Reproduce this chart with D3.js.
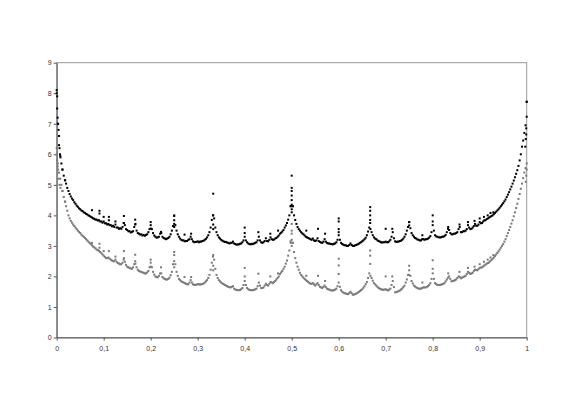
<!DOCTYPE html>
<html>
<head>
<meta charset="utf-8">
<script src="https://cdn.jsdelivr.net/npm/d3@7"></script>
<style>
  body { margin: 0; background: #fff; }
  .axis { opacity: 0.99; }
  .axis text { font-family: "Liberation Sans", Arial, sans-serif; font-size: 7px; fill: #333; }
  .axis path, .axis line { stroke: #555; }
</style>
</head>
<body>
<div id="chart"></div>
<script>
var width = 581, height = 411;

// sample step along x for the two main series
var step = 0.005;

// upper (black) series, one value every 0.005 from 0 to 1
var blackVals = [
  8.1, 6.3, 5.7, 5.3, 5.04, 4.8, 4.62, 4.5, 4.38, 4.28,
  4.2, 4.14, 4.08, 4.03, 3.98, 3.93, 3.89, 3.86, 3.84, 3.8,
  3.8, 3.74, 3.72, 3.68, 3.66, 3.7, 3.6, 3.58, 3.62, 3.68,
  3.52, 3.48, 3.46, 3.62, 3.5, 3.4, 3.38, 3.36, 3.36, 3.45,
  3.78, 3.42, 3.3, 3.28, 3.4, 3.3, 3.24, 3.24, 3.3, 3.5,
  3.98, 3.5, 3.3, 3.2, 3.18, 3.16, 3.2, 3.3, 3.15, 3.13,
  3.15, 3.14, 3.16, 3.2, 3.28, 3.45, 3.85, 3.9, 3.45, 3.28,
  3.2, 3.15, 3.13, 3.1, 3.1, 3.14, 3.06, 3.05, 3.07, 3.12,
  3.3, 3.12, 3.06, 3.07, 3.08, 3.12, 3.3, 3.12, 3.12, 3.25,
  3.15, 3.28, 3.2, 3.24, 3.3, 3.4, 3.47, 3.6, 3.75, 4.0,
  4.9, 4.0, 3.72, 3.55, 3.45, 3.38, 3.3, 3.26, 3.22, 3.24,
  3.16, 3.25, 3.13, 3.1, 3.22, 3.1, 3.08, 3.06, 3.07, 3.12,
  3.35, 3.1, 3.04, 3.02, 3.0, 3.08, 3.0, 3.02, 3.05, 3.1,
  3.15, 3.22, 3.35, 3.6, 3.45, 3.28, 3.22, 3.16, 3.12, 3.12,
  3.14, 3.12, 3.2, 3.45, 3.15, 3.14, 3.16, 3.2, 3.3, 3.5,
  3.78, 3.42, 3.3, 3.24, 3.2, 3.18, 3.22, 3.22, 3.24, 3.32,
  3.68, 3.35, 3.3, 3.28, 3.3, 3.32, 3.45, 3.52, 3.38, 3.4,
  3.42, 3.55, 3.45, 3.48, 3.5, 3.68, 3.55, 3.6, 3.72, 3.66,
  3.78, 3.75, 3.84, 3.88, 3.93, 3.98, 4.04, 4.12, 4.2, 4.3,
  4.4, 4.52, 4.68, 4.85, 5.04, 5.25, 5.48, 5.8, 6.25, 6.7,
  7.72
];

// black series read between those steps (x = 0.0025, 0.0075, ...)
var blackMid = [
  7.0, 5.95, 5.5, 5.15, 4.9, 4.7, 4.55, 4.43, 4.32, 4.23,
  4.16, 4.1, 4.05, 4.0, 3.95, 3.9, 3.86, 3.83, 3.8, 3.76,
  3.74, 3.7, 3.68, 3.64, 3.62, 3.6, 3.56, 3.56, 3.75, 3.55,
  3.48, 3.44, 3.48, 3.72, 3.42, 3.37, 3.34, 3.33, 3.38, 3.55,
  3.55, 3.34, 3.27, 3.3, 3.42, 3.26, 3.22, 3.26, 3.38, 3.65,
  3.68, 3.38, 3.24, 3.18, 3.15, 3.16, 3.22, 3.22, 3.12, 3.13,
  3.12, 3.14, 3.17, 3.23, 3.35, 3.6, 4.0, 3.6, 3.35, 3.24,
  3.17, 3.13, 3.11, 3.08, 3.1, 3.08, 3.04, 3.05, 3.08, 3.18,
  3.18, 3.08, 3.05, 3.06, 3.1, 3.18, 3.18, 3.1, 3.16, 3.16,
  3.2, 3.22, 3.21, 3.26, 3.34, 3.43, 3.52, 3.67, 3.86, 4.3,
  4.3, 3.85, 3.62, 3.5, 3.41, 3.34, 3.28, 3.24, 3.2, 3.18,
  3.18, 3.16, 3.11, 3.14, 3.14, 3.08, 3.06, 3.05, 3.08, 3.2,
  3.2, 3.06, 3.02, 3.0, 3.03, 3.03, 3.0, 3.03, 3.07, 3.12,
  3.18, 3.27, 3.47, 3.55, 3.35, 3.24, 3.18, 3.14, 3.11, 3.12,
  3.12, 3.15, 3.3, 3.25, 3.13, 3.14, 3.17, 3.24, 3.38, 3.62,
  3.58, 3.35, 3.26, 3.21, 3.18, 3.22, 3.2, 3.22, 3.27, 3.45,
  3.5, 3.31, 3.28, 3.28, 3.3, 3.36, 3.56, 3.42, 3.38, 3.4,
  3.45, 3.62, 3.45, 3.48, 3.55, 3.6, 3.56, 3.65, 3.66, 3.7,
  3.74, 3.8, 3.84, 3.9, 3.95, 4.0, 4.08, 4.16, 4.25, 4.35,
  4.46, 4.6, 4.76, 4.94, 5.14, 5.36, 5.62, 6.0, 6.45, 6.95
];

// lower (gray) series, same x steps
var grayVals = [
  6.2, 5.4, 5.0, 4.6, 4.3, 4.0, 3.82, 3.7, 3.6, 3.5,
  3.42, 3.33, 3.26, 3.18, 3.1, 3.02, 2.95, 2.88, 2.84, 2.76,
  2.68, 2.6, 2.62, 2.55, 2.5, 2.55, 2.44, 2.4, 2.45, 2.48,
  2.32, 2.28, 2.25, 2.4, 2.3, 2.18, 2.15, 2.12, 2.1, 2.18,
  2.55, 2.15, 2.0, 1.97, 2.1, 1.98, 1.92, 1.9, 1.96, 2.15,
  2.7, 2.15, 1.92, 1.84, 1.8, 1.76, 1.74, 1.88, 1.74, 1.72,
  1.75, 1.74, 1.75, 1.8, 1.88, 2.05, 2.45, 2.55, 2.05, 1.88,
  1.8, 1.75, 1.7, 1.66, 1.64, 1.68, 1.57, 1.55, 1.56, 1.62,
  1.85, 1.62, 1.56, 1.55, 1.56, 1.6, 1.8, 1.62, 1.64, 1.76,
  1.7, 1.82, 1.78, 1.85, 1.95, 2.08, 2.18, 2.32, 2.52, 2.85,
  3.5, 2.8, 2.45, 2.22, 2.05, 1.96, 1.88, 1.82, 1.76, 1.78,
  1.7, 1.78, 1.66, 1.62, 1.7, 1.6, 1.57, 1.54, 1.55, 1.6,
  1.8, 1.55, 1.47, 1.44, 1.42, 1.5, 1.4, 1.42, 1.46, 1.52,
  1.58, 1.68, 1.82, 2.1, 1.95, 1.78, 1.7, 1.62, 1.58, 1.56,
  1.58, 1.54, 1.6, 1.85, 1.48, 1.5, 1.54, 1.6, 1.7, 1.9,
  2.2, 1.85, 1.7, 1.64, 1.6, 1.6, 1.64, 1.64, 1.68, 1.78,
  2.1, 1.78, 1.72, 1.72, 1.74, 1.78, 1.9, 2.0, 1.84, 1.86,
  1.9, 2.0, 1.94, 1.98, 2.02, 2.15, 2.08, 2.12, 2.22, 2.2,
  2.28, 2.3, 2.36, 2.42, 2.46, 2.54, 2.62, 2.72, 2.82, 2.94,
  3.06, 3.22, 3.42, 3.62, 3.84, 4.1, 4.38, 4.7, 5.04, 5.4,
  5.7
];

// gray series read between those steps
var grayMid = [
  5.7, 5.2, 4.8, 4.45, 4.15, 3.9, 3.76, 3.65, 3.55, 3.46,
  3.37, 3.3, 3.22, 3.14, 3.06, 2.98, 2.92, 2.86, 2.8, 2.72,
  2.64, 2.6, 2.58, 2.52, 2.5, 2.48, 2.42, 2.4, 2.55, 2.38,
  2.3, 2.26, 2.3, 2.42, 2.22, 2.16, 2.13, 2.1, 2.13, 2.3,
  2.3, 2.06, 1.98, 2.02, 2.1, 1.94, 1.9, 1.92, 2.04, 2.4,
  2.4, 2.02, 1.88, 1.82, 1.78, 1.75, 1.8, 1.8, 1.73, 1.73,
  1.74, 1.74, 1.77, 1.84, 1.95, 2.22, 2.65, 2.25, 1.95, 1.84,
  1.77, 1.72, 1.68, 1.65, 1.66, 1.6, 1.56, 1.55, 1.58, 1.72,
  1.72, 1.58, 1.55, 1.55, 1.58, 1.68, 1.7, 1.62, 1.7, 1.72,
  1.76, 1.8, 1.82, 1.9, 2.0, 2.13, 2.25, 2.42, 2.68, 3.15,
  3.1, 2.6, 2.32, 2.12, 2.0, 1.92, 1.85, 1.79, 1.76, 1.74,
  1.74, 1.72, 1.64, 1.66, 1.65, 1.58, 1.55, 1.54, 1.57, 1.68,
  1.66, 1.5, 1.45, 1.43, 1.46, 1.45, 1.41, 1.44, 1.49, 1.55,
  1.63, 1.75, 1.95, 2.02, 1.86, 1.74, 1.66, 1.6, 1.57, 1.57,
  1.56, 1.57, 1.72, 1.65, 1.49, 1.52, 1.57, 1.65, 1.8, 2.05,
  2.02, 1.77, 1.67, 1.62, 1.6, 1.62, 1.64, 1.66, 1.72, 1.92,
  1.92, 1.75, 1.72, 1.73, 1.76, 1.84, 1.96, 1.92, 1.85, 1.88,
  1.95, 1.98, 1.96, 2.0, 2.08, 2.12, 2.1, 2.18, 2.21, 2.24,
  2.29, 2.33, 2.39, 2.44, 2.5, 2.58, 2.67, 2.77, 2.88, 3.0,
  3.14, 3.32, 3.52, 3.73, 3.97, 4.24, 4.54, 4.87, 5.22, 5.55
];

// extra points: spikes at the rationals and the scatter at both ends
var blackExtra = [
  [0, 8.0], [0.001, 7.9], [0.001, 7.5], [0.002, 7.2], [0.003, 7.0], [0.004, 6.8],
  [0.005, 6.6], [0.006, 6.2], [0.007, 6.0], [0.008, 5.9], [0.012, 5.5], [0.018, 5.15],
  [0.075, 4.17], [0.091, 4.15], [0.091, 4.06], [0.1, 3.95], [0.111, 3.95], [0.111, 3.84],
  [0.125, 3.8], [0.143, 3.98], [0.143, 3.75], [0.167, 3.86], [0.167, 3.7],
  [0.2, 3.68], [0.2, 3.57], [0.222, 3.46], [0.25, 4.0], [0.25, 3.84], [0.25, 3.72], [0.25, 3.62],
  [0.272, 3.37], [0.286, 3.4], [0.333, 4.71], [0.333, 4.0], [0.333, 3.7], [0.333, 3.55],
  [0.4, 3.6], [0.4, 3.42], [0.429, 3.45], [0.4545, 3.4], [0.471, 3.5],
  [0.5, 5.3], [0.5, 4.8], [0.5, 4.65], [0.5, 4.5], [0.5, 4.35], [0.5, 4.2], [0.5, 4.1],
  [0.498, 4.3], [0.502, 4.3], [0.531, 3.5], [0.556, 3.56], [0.571, 3.4],
  [0.6, 3.9], [0.6, 3.8], [0.6, 3.55], [0.6, 3.45],
  [0.667, 4.27], [0.667, 4.15], [0.667, 4.0], [0.667, 3.85], [0.667, 3.75],
  [0.7, 3.56], [0.714, 3.56], [0.75, 3.78], [0.75, 3.67], [0.778, 3.35],
  [0.8, 4.0], [0.8, 3.8], [0.833, 3.62], [0.857, 3.7], [0.875, 3.78],
  [0.889, 3.82], [0.9, 3.9], [0.909, 3.95], [0.917, 4.0], [0.923, 4.08], [0.929, 4.1],
  [1.0, 7.72], [1.0, 7.23], [0.999, 6.85], [0.999, 6.65], [0.998, 6.5], [0.997, 6.25]
];

var grayExtra = [
  [0, 6.0], [0.001, 5.8], [0.002, 5.6], [0.003, 5.5], [0.004, 5.2], [0.006, 5.0],
  [0.008, 4.9], [0.012, 4.8], [0.018, 4.45],
  [0.075, 3.1], [0.091, 3.07], [0.091, 2.94], [0.1, 2.83], [0.111, 2.83], [0.125, 2.65],
  [0.143, 2.83], [0.143, 2.6], [0.167, 2.71], [0.167, 2.5],
  [0.2, 2.45], [0.2, 2.32], [0.222, 2.3], [0.25, 2.8], [0.25, 2.5], [0.25, 2.3],
  [0.272, 1.98], [0.286, 1.98], [0.333, 2.7], [0.333, 2.35], [0.333, 2.2],
  [0.4, 2.28], [0.4, 2.0], [0.429, 2.09], [0.4545, 2.0], [0.471, 2.1],
  [0.5, 3.72], [0.5, 3.4], [0.5, 3.2], [0.5, 3.0], [0.498, 3.1], [0.502, 3.1],
  [0.531, 2.02], [0.556, 2.02], [0.571, 1.85],
  [0.6, 2.58], [0.6, 2.36], [0.6, 2.08], [0.667, 2.85], [0.667, 2.68], [0.667, 2.41],
  [0.7, 2.0], [0.714, 2.0], [0.75, 2.35], [0.75, 2.05], [0.778, 1.8],
  [0.8, 2.53], [0.8, 2.25], [0.833, 2.1], [0.857, 2.15], [0.875, 2.28],
  [0.889, 2.32], [0.9, 2.4], [0.909, 2.48], [0.917, 2.55], [0.923, 2.62], [0.929, 2.7],
  [1.0, 5.5], [0.999, 5.3], [0.998, 5.1]
];

var xTicks = [0, 0.1, 0.2, 0.3, 0.4, 0.5, 0.6, 0.7, 0.8, 0.9, 1];
var yTicks = [0, 1, 2, 3, 4, 5, 6, 7, 8, 9];

var svg = d3.select("#chart").append("svg")
    .attr("width", width)
    .attr("height", height);

var x = d3.scaleLinear().domain([0, 1]).range([56.7, 526.7]);
var y = d3.scaleLinear().domain([0, 9]).range([337.5, 62.7]);

// plot area frame (gray, Excel style)
svg.append("rect")
    .attr("x", x(0)).attr("y", y(9))
    .attr("width", x(1) - x(0)).attr("height", y(0) - y(9))
    .attr("fill", "none")
    .attr("stroke", "#999");

var fmt = function(d) {
  return d === 0 || d === 1 ? String(d) : d3.format(".1f")(d).replace(".", ",");
};

svg.append("g")
    .attr("class", "axis")
    .attr("transform", "translate(0," + y(0) + ")")
    .call(d3.axisBottom(x).tickValues(xTicks).tickFormat(fmt).tickSize(3).tickSizeOuter(0).tickPadding(6));

svg.append("g")
    .attr("class", "axis")
    .attr("transform", "translate(" + x(0) + ",0)")
    .call(d3.axisLeft(y).tickValues(yTicks).tickFormat(d3.format("d")).tickSize(3).tickSizeOuter(0).tickPadding(2));

function toPoints(vals, offset) {
  return vals.map(function(v, i) { return [(i + offset) * step, v]; });
}

var gray = toPoints(grayVals, 0).concat(toPoints(grayMid, 0.5), grayExtra);
var black = toPoints(blackVals, 0).concat(toPoints(blackMid, 0.5), blackExtra);

svg.append("g").selectAll("rect")
    .data(gray)
  .enter().append("rect")
    .attr("x", function(d) { return x(d[0]) - 1; })
    .attr("y", function(d) { return y(d[1]) - 1; })
    .attr("width", 2).attr("height", 2)
    .attr("fill", "#7a7a7a");

svg.append("g").selectAll("rect")
    .data(black)
  .enter().append("rect")
    .attr("x", function(d) { return x(d[0]) - 1; })
    .attr("y", function(d) { return y(d[1]) - 1; })
    .attr("width", 2).attr("height", 2)
    .attr("fill", "#000");
</script>
</body>
</html>
